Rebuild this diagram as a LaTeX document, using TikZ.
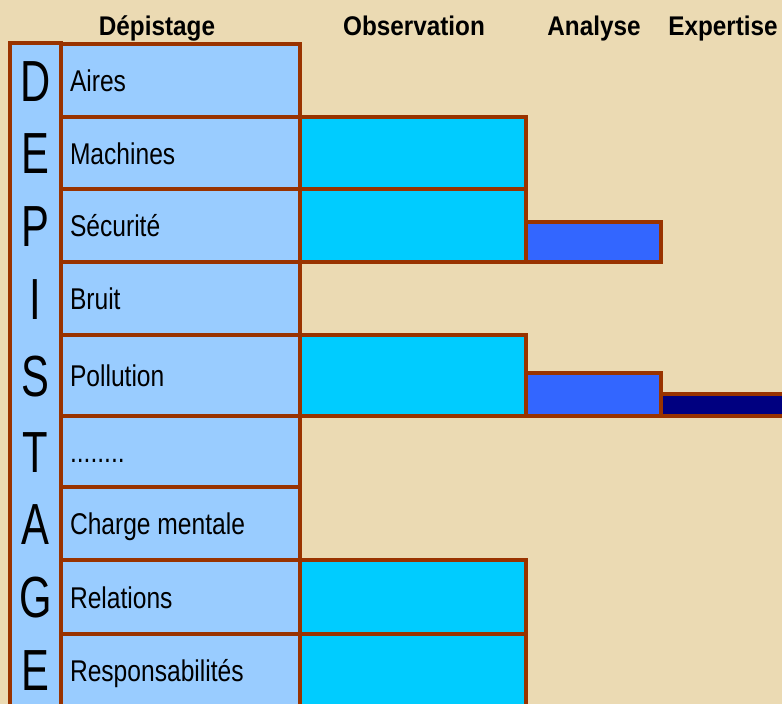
\documentclass[tikz,border=0pt]{standalone}
\usepackage{fontspec}
\setmainfont{Liberation Sans}
\newfontfamily\rowfont{Liberation Sans}[FakeStretch=0.82]
\newfontfamily\headfont{Liberation Sans}[FakeStretch=0.9]
\newfontfamily\letterfont{Liberation Sans}[FakeStretch=0.72]
\usetikzlibrary{positioning}

\definecolor{parchment}{RGB}{235,218,179}
\definecolor{rust}{RGB}{153,51,0}
\definecolor{paleblue}{RGB}{153,204,255}
\definecolor{skyblue}{RGB}{0,204,255}
\definecolor{midblue}{RGB}{51,102,255}
\definecolor{deepblue}{RGB}{0,0,128}
\newcommand{\etcdots}{........}

\begin{document}
\begin{tikzpicture}[x=1pt,y=-1pt,
  every node/.style={inner sep=0pt,outer sep=0pt},
  bar/.style={draw=rust,line width=3.5pt,rectangle},
  rowbox/.style={bar,fill=paleblue,anchor=north west,minimum width=239pt},
  obsbar/.style={bar,fill=skyblue,anchor=north west,minimum width=226pt},
  anabar/.style={bar,fill=midblue,anchor=south west,minimum width=135pt},
  expbar/.style={bar,fill=deepblue,anchor=south west,minimum width=130pt,minimum height=22pt},
  rowtext/.style={anchor=west,font=\rowfont\fontsize{30}{36}\selectfont,text height=22pt,text depth=0pt},
  letter/.style={font=\letterfont\fontsize{58}{60}\selectfont,text height=41.5pt,text depth=0pt},
  head/.style={anchor=base,font=\headfont\bfseries\fontsize{27}{32}\selectfont}]
\fill[parchment] (0,0) rectangle (782,704);
\useasboundingbox (0,0) rectangle (782,704);
\clip (0,0) rectangle (782,704);

% column titles
\node[head] (hdep) at (157,35) {Dépistage};
\node[head] (hobs) at (414,35) {Observation};
\node[head] (hana) at (594,35) {Analyse};
\node[head] (hexp) at (723,35) {Expertise};

% tall column with the spelled word
\node[bar,fill=paleblue,anchor=north west,minimum width=51pt,minimum height=680pt] (word) at (10,43) {};

% one row per item
\foreach \row/\top/\bot/\l/\txt in {
    aires/44/117/D/Aires,
    machines/117/189/E/Machines,
    securite/189/262/P/Sécurité,
    bruit/262/335/I/Bruit,
    pollution/335/416/S/Pollution,
    etc/416/487/T/\etcdots,
    charge/487/560/A/Charge mentale,
    relations/560/634/G/Relations,
    resp/634/706/E/Responsabilités}{
  \node[rowbox,minimum height={\bot-\top}] (\row) at (61,\top) {};
  \node[rowtext] (\row-txt) at ([xshift=9pt]\row.west) {\txt};
  \node[letter] (\row-l) at (35.5,{(\top+\bot)/2}) {\l};
}

% observation stage
\foreach \row/\h in {machines/72,securite/73,pollution/81,relations/74,resp/72}
  \node[obsbar,minimum height=\h] (obs-\row) at (\row.north east) {};

% analysis and expertise
\node[anabar,minimum height=40pt] (ana-securite) at (obs-securite.south east) {};
\node[anabar,minimum height=43pt] (ana-pollution) at (obs-pollution.south east) {};
\node[expbar] (exp-pollution) at (ana-pollution.south east) {};
\end{tikzpicture}
\end{document}
